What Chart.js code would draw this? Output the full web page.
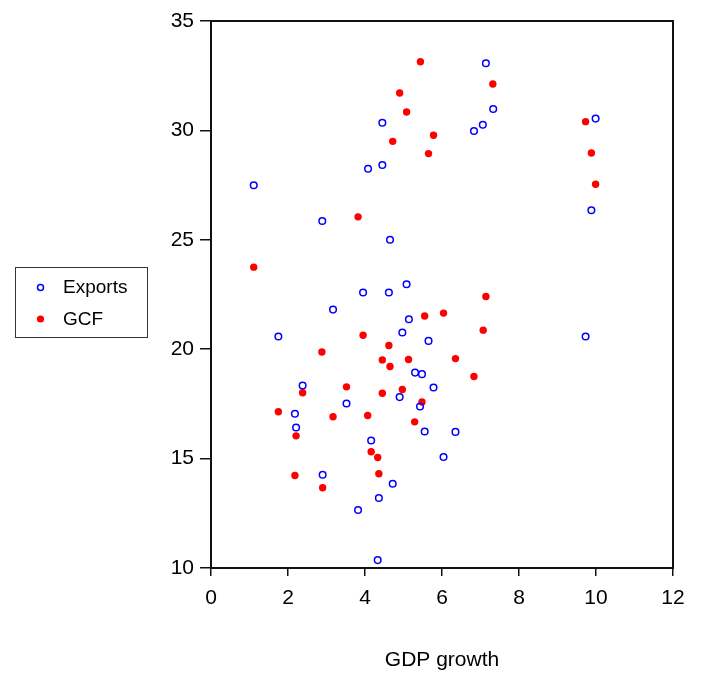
<!DOCTYPE html>
<html>
<head>
<meta charset="utf-8">
<script src="https://cdn.jsdelivr.net/npm/chart.js@4/dist/chart.umd.min.js"></script>
<style>
  body { margin: 0; background: #fff; }
  canvas { display: block; }
</style>
</head>
<body>
<canvas id="scatter" width="701" height="677"></canvas>
<script>
// GDP growth vs Exports / GCF
var exportsX = [1.11, 7.14, 7.33, 7.06, 6.83, 4.45, 4.45, 4.08, 2.89, 4.65,
  9.99, 9.88, 9.73, 5.08, 3.95, 4.62, 3.17, 5.14, 1.75, 4.97,
  5.65, 5.30, 5.48, 5.78, 2.38, 4.90, 5.43, 3.52, 2.18, 2.21,
  5.55, 6.35, 4.16, 6.04, 2.90, 4.72, 4.36, 3.82, 4.33];
var exportsY = [27.49, 33.07, 30.98, 30.26, 29.97, 30.35, 28.42, 28.25, 25.86, 25.00,
  30.54, 26.35, 20.58, 22.97, 22.59, 22.59, 21.81, 21.37, 20.58, 20.76,
  20.38, 18.93, 18.86, 18.25, 18.34, 17.81, 17.38, 17.52, 17.05, 16.42,
  16.24, 16.22, 15.83, 15.07, 14.26, 13.85, 13.20, 12.65, 10.36];

var gcfX = [5.44, 4.90, 5.08, 4.72, 5.78, 5.65, 3.82, 7.32, 9.73, 9.88,
  9.99, 1.11, 7.14, 6.04, 5.55, 7.07, 3.95, 4.62, 2.88, 4.45,
  5.13, 6.35, 4.65, 6.83, 3.52, 2.38, 4.45, 4.97, 5.48, 1.75,
  3.17, 4.07, 5.29, 2.21, 4.16, 4.33, 4.36, 2.18, 2.90];
var gcfY = [33.14, 31.71, 30.84, 29.50, 29.78, 28.94, 26.05, 32.12, 30.40, 28.97,
  27.54, 23.75, 22.41, 21.65, 21.52, 20.87, 20.64, 20.17, 19.87, 19.51,
  19.53, 19.57, 19.21, 18.75, 18.28, 18.01, 17.99, 18.16, 17.59, 17.14,
  16.91, 16.97, 16.68, 16.04, 15.31, 15.05, 14.31, 14.23, 13.67];

var xTicks = [0, 2, 4, 6, 8, 10, 12];
var yTicks = [10, 15, 20, 25, 30, 35];

function toPoints(xs, ys) {
  var pts = [];
  for (var i = 0; i < xs.length; i++) {
    pts.push({x: xs[i], y: ys[i]});
  }
  return pts;
}

var FONT = "'Liberation Sans', Arial, sans-serif";

// box around the plot and the legend on the left
var framePlugin = {
  id: 'frame',
  afterDraw: function(chart) {
    var ctx = chart.ctx;
    var a = chart.chartArea;
    ctx.save();
    ctx.strokeStyle = '#111';
    ctx.lineWidth = 2;
    ctx.strokeRect(a.left, a.top, a.right - a.left, a.bottom - a.top);

    // legend
    ctx.lineWidth = 1;
    ctx.strokeStyle = '#333';
    ctx.strokeRect(15.5, 267.5, 132, 70);
    ctx.beginPath();
    ctx.arc(40.5, 287.5, 3, 0, Math.PI * 2);
    ctx.strokeStyle = '#0000ff';
    ctx.lineWidth = 1.5;
    ctx.stroke();
    ctx.beginPath();
    ctx.arc(40.5, 319, 3.6, 0, Math.PI * 2);
    ctx.fillStyle = '#ff0000';
    ctx.fill();
    ctx.fillStyle = '#000';
    ctx.font = '19px ' + FONT;
    ctx.textBaseline = 'middle';
    ctx.textAlign = 'left';
    ctx.fillText('Exports', 63, 288);
    ctx.fillText('GCF', 63, 320);
    ctx.restore();
  }
};

new Chart(document.getElementById('scatter'), {
  type: 'scatter',
  data: {
    datasets: [{
      label: 'Exports',
      data: toPoints(exportsX, exportsY),
      pointStyle: 'circle',
      pointRadius: 3.3,
      pointBorderWidth: 1.5,
      pointBorderColor: '#0000ff',
      pointBackgroundColor: 'rgba(0,0,0,0)'
    }, {
      label: 'GCF',
      data: toPoints(gcfX, gcfY),
      pointStyle: 'circle',
      pointRadius: 3.7,
      pointBorderWidth: 0,
      pointBorderColor: '#ff0000',
      pointBackgroundColor: '#ff0000'
    }]
  },
  options: {
    responsive: false,
    animation: false,
    events: [],
    layout: {
      padding: {left: 161, right: 28, top: 21, bottom: 0}
    },
    plugins: {
      legend: {display: false},
      tooltip: {enabled: false}
    },
    scales: {
      x: {
        type: 'linear',
        min: 0,
        max: 12,
        afterFit: function(scale) { scale.height = 109; },
        afterBuildTicks: function(scale) {
          scale.ticks = xTicks.map(function(v) { return {value: v}; });
        },
        grid: {drawOnChartArea: false, drawTicks: true, tickLength: 8, color: '#111', lineWidth: 1.5},
        border: {display: true, color: '#111', width: 2},
        ticks: {color: '#000', font: {family: FONT, size: 21}, padding: 10, maxRotation: 0},
        title: {
          display: true,
          text: 'GDP growth',
          color: '#000',
          font: {family: FONT, size: 21},
          padding: {top: 0, bottom: 4}
        }
      },
      y: {
        type: 'linear',
        min: 10,
        max: 35,
        afterFit: function(scale) { scale.width = 50; },
        afterBuildTicks: function(scale) {
          scale.ticks = yTicks.map(function(v) { return {value: v}; });
        },
        grid: {drawOnChartArea: false, drawTicks: true, tickLength: 11, color: '#111', lineWidth: 1.5},
        border: {display: true, color: '#111', width: 2},
        ticks: {color: '#000', font: {family: FONT, size: 21}, padding: 6}
      }
    }
  },
  plugins: [framePlugin]
});
</script>
</body>
</html>
